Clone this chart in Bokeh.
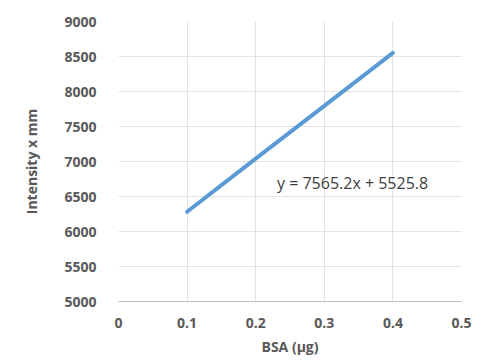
from bokeh.plotting import figure
from bokeh.models import Range1d, FixedTicker
from bokeh.core.properties import value
from bokeh.embed import file_html
from bokeh.resources import INLINE

bsa = [0.1, 0.2, 0.3, 0.4]
intensity = [6282, 7040, 7795, 8552]
x_ticks = [0, 0.1, 0.2, 0.3, 0.4, 0.5]
y_ticks = [5000, 5500, 6000, 6500, 7000, 7500, 8000, 8500, 9000]
equation = "y = 7565.2x + 5525.8"
eq_x = [0.231]
eq_y = [6690]

FONT = "Open Sans"
TXT = "#595959"

p = figure(width=477, height=358, output_backend="svg", toolbar_location=None,
           x_range=Range1d(0, 0.5), y_range=Range1d(5000, 9000),
           min_border_left=118, min_border_right=16, min_border_top=21, min_border_bottom=52)
p.outline_line_color = None
p.background_fill_color = "white"
p.border_fill_color = "white"

p.line(bsa, intensity, line_color="#5B9BD5", line_width=4, line_cap="round")
p.text(eq_x, eq_y, text=[equation], text_font=value(FONT), text_font_size="16px",
       text_color="#404040", text_baseline="middle", text_align="left")

p.xaxis.ticker = FixedTicker(ticks=x_ticks)
p.yaxis.ticker = FixedTicker(ticks=y_ticks)
p.xaxis.major_label_overrides = {0: "0"}
for ax in (p.xaxis, p.yaxis):
    ax.major_tick_line_color = None
    ax.minor_tick_line_color = None
    ax.major_label_text_font = FONT
    ax.major_label_text_font_size = "14px"
    ax.major_label_text_font_style = "bold"
    ax.major_label_text_color = TXT
    ax.axis_label_text_font = FONT
    ax.axis_label_text_font_size = "14px"
    ax.axis_label_text_font_style = "bold"
    ax.axis_label_text_color = TXT
p.xaxis.axis_line_color = "#BFBFBF"
p.yaxis.axis_line_color = None
p.xaxis.major_label_standoff = 10
p.yaxis.major_label_standoff = 16
p.xaxis.axis_label = "BSA (µg)"
p.yaxis.axis_label = "Intensity x mm"
p.xaxis.axis_label_standoff = 6
p.yaxis.axis_label_standoff = 20
p.xgrid.grid_line_color = "#E3E3E3"
p.ygrid.grid_line_color = "#E3E3E3"

open("out.html", "w").write(file_html(p, INLINE))
